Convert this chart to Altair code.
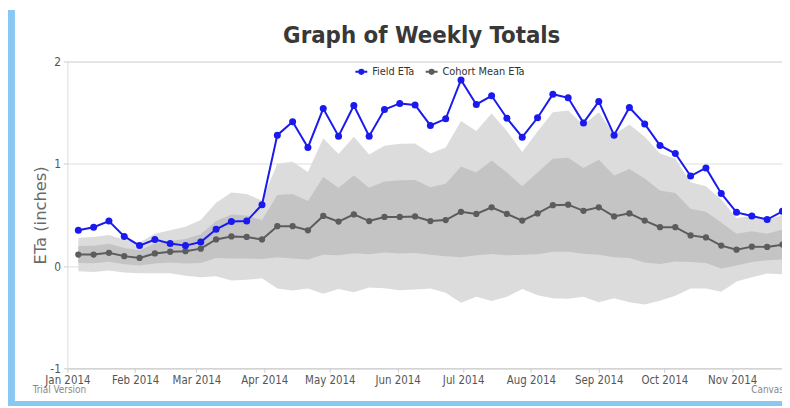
import altair as alt
import pandas as pd

# ---- data ----
week_start = pd.date_range("2014-01-06", periods=47, freq="7D").strftime("%Y-%m-%d").tolist()

field_eta = [0.35, 0.38, 0.44, 0.29, 0.20, 0.26, 0.22, 0.20, 0.235, 0.36,
             0.435, 0.44, 0.60, 1.28, 1.41, 1.16, 1.54, 1.27, 1.57, 1.27,
             1.53, 1.59, 1.575, 1.375, 1.44, 1.82, 1.58, 1.665, 1.445, 1.26,
             1.45, 1.68, 1.645, 1.40, 1.61, 1.28, 1.55, 1.39, 1.18, 1.10,
             0.88, 0.96, 0.71, 0.525, 0.49, 0.455, 0.535]
cohort_mean = [0.113, 0.113, 0.13, 0.097, 0.08, 0.123, 0.14, 0.145, 0.17, 0.26,
               0.29, 0.285, 0.26, 0.39, 0.39, 0.35, 0.49, 0.435, 0.505, 0.44,
               0.48, 0.48, 0.485, 0.44, 0.45, 0.53, 0.51, 0.575, 0.51, 0.445,
               0.515, 0.595, 0.60, 0.54, 0.575, 0.485, 0.515, 0.445, 0.38, 0.38,
               0.30, 0.28, 0.20, 0.16, 0.19, 0.187, 0.21]
cohort_std = [0.082, 0.085, 0.087, 0.08, 0.075, 0.097, 0.105, 0.12, 0.14, 0.18,
              0.215, 0.21, 0.19, 0.305, 0.315, 0.285, 0.38, 0.33, 0.38, 0.325,
              0.348, 0.358, 0.357, 0.33, 0.355, 0.444, 0.405, 0.458, 0.405, 0.335,
              0.40, 0.455, 0.46, 0.42, 0.465, 0.40, 0.435, 0.41, 0.36, 0.335,
              0.26, 0.25, 0.225, 0.155, 0.15, 0.13, 0.145]

series_names = ["Field ETa", "Cohort Mean ETa"]
series_colors = ["#1a1aee", "#5c5c5c"]
month_ticks = list(range(1, 12))
y_ticks = [-1, 0, 1, 2]

FONT = "Liberation Sans Narrow, DejaVu Sans Condensed, Roboto Condensed, Roboto, sans-serif"
AXIS_TITLE_FONT = "DejaVu Sans, Verdana, sans-serif"

df = pd.DataFrame({"date": week_start, "field": field_eta,
                   "mean": cohort_mean, "std": cohort_std})
df["hi1"] = df["mean"] + df["std"]
df["lo1"] = df["mean"] - df["std"]
df["hi2"] = df["mean"] + 2 * df["std"]
df["lo2"] = df["mean"] - 2 * df["std"]

long = pd.concat([
    pd.DataFrame({"date": week_start, "value": cohort_mean, "series": series_names[1]}),
    pd.DataFrame({"date": week_start, "value": field_eta, "series": series_names[0]}),
])

x_scale = alt.Scale(type="utc", domain=[
    alt.DateTime(year=2014, month=1, date=1, utc=True),
    alt.DateTime(year=2014, month=11, date=23, hours=19, utc=True)])
x_axis = alt.Axis(title=None, format="%b %Y",
                  values=[alt.DateTime(year=2014, month=m, date=1, utc=True) for m in month_ticks],
                  labelFont=FONT, labelFontSize=11.5, labelColor="#555555",
                  labelFlush=False, labelOverlap=False, labelPadding=2,
                  tickSize=4, tickColor="#cccccc", domainColor="#cccccc", grid=False)
y_scale = alt.Scale(domain=[-1, 2], nice=False, zero=False)
y_axis = alt.Axis(title="ETa (inches)", values=y_ticks, labelExpr="'' + datum.value",
                  labelFont=FONT, labelFontSize=12, labelColor="#555555", labelPadding=3,
                  tickSize=4, tickColor="#cccccc", domain=False,
                  gridColor="#dddddd", titleFont=AXIS_TITLE_FONT, titleFontSize=16.5,
                  titleColor="#6a6a6a", titleFontWeight="normal",
                  titleX=-27, titleY=155, titleBaseline="middle")

X = alt.X("date:T", scale=x_scale, axis=x_axis)


def Y(field):
    return alt.Y(field, type="quantitative", scale=y_scale, axis=y_axis)


color_scale = alt.Scale(domain=series_names, range=series_colors)
legend_symbol = ("M-1,0H1M-0.35,0A0.35,0.35,0,1,1,0.35,0A0.35,0.35,0,1,1,-0.35,0"
                 "M-0.15,0A0.15,0.15,0,1,1,0.15,0A0.15,0.15,0,1,1,-0.15,0")
legend = alt.Legend(title=None, orient="none", legendX=290, legendY=3,
                    direction="horizontal", symbolType=legend_symbol, symbolSize=144,
                    symbolStrokeWidth=2, labelFont=FONT, labelFontSize=11,
                    labelColor="#333333", labelOffset=4, columnPadding=7, padding=0)

outer = alt.Chart(df).mark_area(color="#dcdcdc", opacity=1).encode(
    x=X, y=Y("lo2"), y2="hi2")
inner = alt.Chart(df).mark_area(color="#c4c4c4", opacity=1).encode(
    x=X, y=Y("lo1"), y2="hi1")


def series_layers(name, size):
    src = alt.Chart(long).transform_filter(alt.datum.series == name)
    ln = src.mark_line(strokeWidth=2).encode(
        x=X, y=Y("value"), color=alt.Color("series:N", scale=color_scale, legend=legend))
    pt = src.mark_point(filled=True, size=size, opacity=1).encode(
        x=X, y=Y("value"), color=alt.Color("series:N", scale=color_scale, legend=None))
    return [ln, pt]


notes = pd.DataFrame({"t": ["Trial Version"]})
credit = pd.DataFrame({"t": ["CanvasJS.com"]})
trial = alt.Chart(notes).mark_text(align="left", baseline="middle", fontSize=10,
                                   color="#888888", font=FONT).encode(
    x=alt.value(-35), y=alt.value(332), text="t:N")
canvas = alt.Chart(credit).mark_text(align="left", baseline="middle", fontSize=10,
                                     color="#888888", font=FONT).encode(
    x=alt.value(691), y=alt.value(332), text="t:N")

frame_src = pd.DataFrame({"a": [0]})
frame_left = alt.Chart(frame_src).mark_rect(color="#8ac8f4").encode(
    x=alt.value(-60), x2=alt.value(-53), y=alt.value(-52), y2=alt.value(348))
frame_bottom = alt.Chart(frame_src).mark_rect(color="#8ac8f4").encode(
    x=alt.value(-60), x2=alt.value(722), y=alt.value(343), y2=alt.value(348))

layers = [outer, inner] + series_layers(series_names[1], 40) + series_layers(series_names[0], 50)
layers += [trial, canvas, frame_left, frame_bottom]

chart = alt.layer(*layers).properties(
    width=722, height=310,
    title=alt.TitleParams("Graph of Weekly Totals", font=FONT, fontSize=24,
                          fontWeight="bold", color="#383838", anchor="middle",
                          frame="group", baseline="alphabetic", dx=-3, offset=0, dy=57),
    padding={"left": 60, "top": 52, "right": 0, "bottom": 38},
    autosize=alt.AutoSizeParams(type="none"),
).configure_view(stroke=None).configure(background="white")

chart.save("out.html", embed_options={"renderer": "svg", "actions": False})
